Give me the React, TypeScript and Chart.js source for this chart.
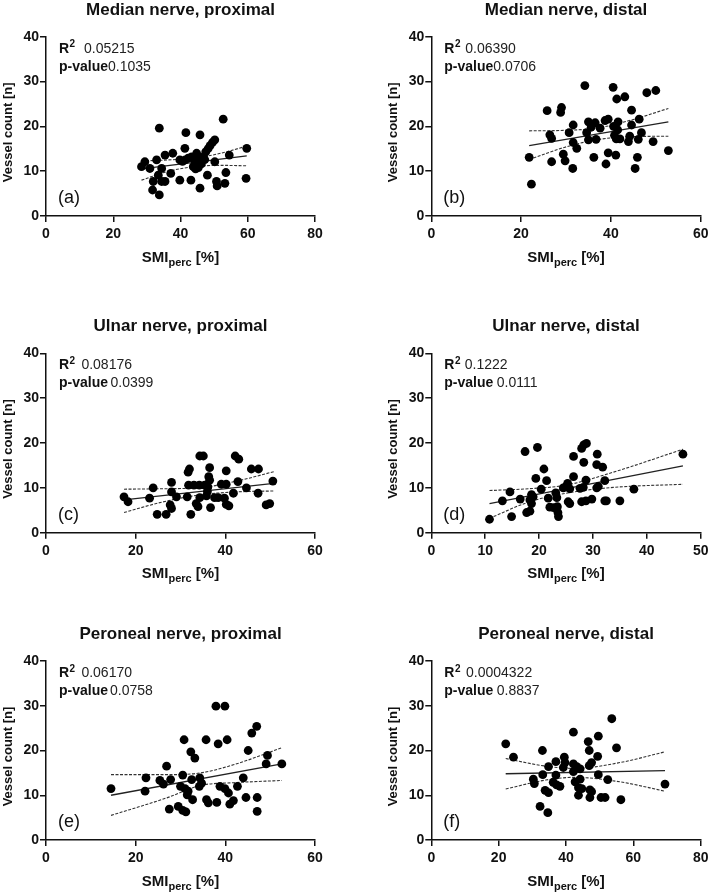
import React, { useEffect, useRef } from 'react';
import { Chart, registerables } from 'chart.js';

Chart.register(...registerables);

const FONT = '"Liberation Sans", Arial, Helvetica, sans-serif';
Chart.defaults.font.family = FONT;

// ---------- Median nerve, proximal (a)
const medProxX = [28.4, 29.4, 30.9, 31.9, 31.7, 32.9, 33.4, 33.7, 33.7, 34.4, 34.4, 35.4, 35.4, 37.1, 37.7, 39.8, 39.8, 40.6, 41.3, 41.6, 41.4, 42.3, 43.1, 43.3, 43.8, 44.3, 44.5, 44.6, 44.8, 45.0, 45.3, 45.8, 45.8, 46.2, 46.8, 47.2, 47.5, 48.0, 48.2, 48.8, 49.5, 50.2, 50.2, 50.7, 50.9, 52.7, 53.2, 53.5, 54.5, 59.5, 59.7];
const medProxY = [11.0, 12.1, 10.6, 7.7, 5.8, 12.5, 9.1, 4.7, 19.6, 10.6, 7.7, 7.7, 13.6, 9.5, 14.0, 8.0, 12.5, 12.2, 15.1, 18.6, 12.5, 12.9, 8.0, 13.2, 11.0, 12.3, 10.5, 11.6, 14.0, 12.6, 10.8, 18.1, 6.2, 11.6, 13.2, 12.6, 14.3, 9.1, 15.0, 15.7, 16.4, 17.0, 12.1, 7.7, 6.7, 21.6, 7.3, 9.7, 13.6, 8.4, 15.1];
const medProxFitX = [28.4, 59.7];
const medProxFitY = [10.5, 13.4];
const medProxBandX = [28.4, 36, 44, 52, 59.7];
const medProxUpper = [12.3, 12.5, 12.9, 14.0, 15.6];
const medProxLower = [8.0, 9.9, 11.0, 11.3, 11.2];

// ---------- Median nerve, distal (b)
const medDistX = [21.8, 22.3, 25.8, 26.4, 26.8, 26.8, 28.8, 29.0, 29.4, 29.8, 30.7, 31.5, 31.6, 31.6, 32.4, 34.2, 34.6, 35.0, 35.0, 35.6, 36.2, 36.5, 36.7, 37.6, 38.7, 38.9, 39.4, 39.4, 40.5, 40.6, 40.8, 41.1, 41.2, 41.3, 41.5, 41.6, 42.0, 43.1, 43.9, 44.2, 44.6, 44.6, 45.4, 45.9, 46.1, 46.3, 46.8, 48.0, 49.4, 50.0, 52.8];
const medDistY = [13.1, 7.1, 23.5, 18.1, 17.3, 12.1, 23.1, 24.2, 13.8, 12.3, 18.6, 10.6, 20.3, 16.4, 15.1, 29.1, 18.6, 21.0, 17.0, 19.8, 13.1, 20.8, 17.1, 19.6, 21.3, 11.6, 21.6, 14.1, 28.7, 20.0, 18.0, 13.6, 17.2, 26.1, 19.2, 21.0, 17.2, 26.6, 16.6, 17.8, 23.6, 20.3, 10.6, 13.1, 17.1, 21.6, 18.6, 27.5, 16.6, 28.0, 14.6];
const medDistFitX = [21.8, 52.8];
const medDistFitY = [15.7, 21.0];
const medDistBandX = [21.8, 29.6, 37.4, 45.2, 52.8];
const medDistUpper = [19.0, 19.1, 19.7, 21.6, 24.0];
const medDistLower = [12.6, 15.3, 17.1, 17.7, 17.8];

// ---------- Ulnar nerve, proximal (c)
const ulnProxX = [17.4, 18.3, 23.1, 23.9, 24.8, 26.8, 27.7, 28.0, 28.0, 28.0, 29.1, 31.5, 31.7, 31.8, 32.0, 32.3, 33.0, 33.5, 33.9, 34.3, 34.3, 34.2, 35.1, 35.4, 35.8, 36.0, 36.1, 36.3, 36.5, 36.5, 36.7, 37.6, 38.4, 39.1, 39.8, 40.2, 40.2, 40.2, 40.8, 41.8, 42.2, 42.8, 43.0, 44.7, 45.8, 47.3, 47.4, 49.1, 49.9, 50.6];
const ulnProxY = [8.0, 6.9, 7.7, 10.0, 4.1, 4.1, 6.2, 5.4, 9.1, 11.2, 8.0, 8.0, 13.5, 10.6, 14.2, 4.1, 10.6, 6.5, 5.8, 17.1, 7.8, 10.6, 17.1, 10.6, 8.2, 9.2, 10.2, 12.5, 11.7, 14.5, 5.6, 7.8, 7.8, 10.8, 7.7, 13.8, 10.8, 6.3, 6.0, 8.8, 17.1, 11.4, 16.4, 10.0, 14.2, 8.8, 14.2, 6.2, 6.5, 11.5];
const ulnProxFitX = [17.4, 50.8];
const ulnProxFitY = [7.3, 11.0];
const ulnProxBandX = [17.4, 25.8, 34.1, 42.5, 50.8];
const ulnProxUpper = [9.7, 9.8, 10.0, 11.5, 13.6];
const ulnProxLower = [4.5, 6.8, 8.4, 9.1, 9.3];

// ---------- Ulnar nerve, distal (d)
const ulnDistX = [10.8, 13.2, 14.6, 14.9, 16.5, 17.4, 17.7, 18.3, 18.3, 18.6, 18.9, 18.6, 19.4, 19.7, 20.4, 20.9, 21.4, 21.7, 22.0, 22.7, 23.1, 23.3, 23.4, 23.5, 23.6, 24.5, 25.0, 25.3, 25.4, 25.7, 25.7, 26.4, 26.4, 27.6, 27.9, 27.9, 28.2, 28.3, 28.3, 28.7, 28.7, 28.8, 29.8, 30.7, 30.7, 30.8, 31.0, 31.8, 32.2, 32.2, 32.5, 35.0, 37.6, 46.7];
const ulnDistY = [3.0, 7.1, 9.1, 3.6, 7.5, 18.1, 4.5, 4.8, 7.3, 8.5, 8.0, 6.5, 12.1, 19.0, 9.7, 14.2, 11.6, 7.7, 5.7, 5.6, 8.9, 7.8, 5.8, 4.5, 3.6, 10.0, 10.3, 11.0, 6.9, 6.5, 9.8, 17.0, 12.5, 9.9, 6.9, 18.8, 10.1, 19.6, 15.7, 11.7, 7.1, 19.9, 7.5, 10.0, 15.2, 17.5, 10.3, 14.6, 11.6, 7.1, 7.1, 7.1, 9.7, 17.5];
const ulnDistFitX = [10.8, 46.7];
const ulnDistFitY = [6.5, 14.9];
const ulnDistBandX = [10.8, 18, 25, 33.8, 46.7];
const ulnDistUpper = [9.4, 9.8, 10.6, 13.5, 18.6];
const ulnDistLower = [3.2, 6.8, 8.8, 10.1, 10.8];

// ---------- Peroneal nerve, proximal (e)
const perProxX = [14.5, 22.1, 22.3, 25.4, 26.2, 26.9, 27.5, 27.8, 29.5, 30.0, 30.5, 30.5, 30.8, 31.0, 31.2, 31.5, 31.7, 32.3, 32.5, 32.7, 33.2, 34.2, 34.3, 34.7, 35.7, 35.8, 36.2, 37.9, 38.1, 38.4, 38.8, 39.9, 39.9, 40.4, 40.7, 41.0, 41.8, 42.7, 44.0, 44.6, 45.1, 45.9, 47.0, 47.1, 47.1, 49.1, 49.4, 52.6];
const perProxY = [11.5, 10.9, 13.9, 13.3, 12.5, 16.5, 6.9, 13.5, 7.5, 12.0, 14.5, 6.6, 22.4, 11.5, 6.3, 10.1, 10.9, 19.7, 13.5, 9.0, 18.3, 12.0, 13.9, 12.7, 22.4, 9.0, 8.3, 29.9, 8.4, 21.5, 12.0, 29.9, 11.5, 22.4, 10.5, 8.0, 8.8, 12.0, 13.9, 9.5, 20.0, 23.9, 25.4, 9.5, 6.4, 17.0, 18.9, 17.0];
const perProxFitX = [14.5, 52.6];
const perProxFitY = [10.0, 17.0];
const perProxBandX = [14.5, 26.9, 34.5, 41.8, 52.6];
const perProxUpper = [14.6, 14.6, 15.0, 16.8, 20.6];
const perProxLower = [5.5, 9.4, 12.2, 12.8, 13.3];

// ---------- Peroneal nerve, distal (f)
const perDistX = [22.1, 24.4, 30.3, 30.6, 32.3, 33.0, 33.1, 33.8, 34.6, 34.8, 34.8, 36.2, 37.0, 37.0, 37.2, 38.2, 39.2, 39.5, 39.7, 42.2, 42.2, 42.2, 42.7, 43.2, 43.7, 43.7, 44.2, 44.2, 44.7, 46.6, 46.9, 46.9, 47.1, 47.1, 47.6, 47.6, 49.4, 49.6, 49.6, 50.4, 51.6, 52.4, 53.6, 55.0, 56.3, 69.4];
const perDistY = [21.5, 18.5, 13.6, 12.6, 7.5, 20.0, 14.6, 11.1, 6.1, 16.4, 10.6, 12.9, 17.5, 14.5, 12.3, 12.0, 16.2, 18.5, 17.3, 24.1, 17.0, 15.3, 13.0, 16.4, 11.7, 10.0, 15.9, 13.6, 11.5, 22.0, 20.0, 16.6, 11.2, 9.5, 17.3, 10.8, 18.7, 23.2, 14.6, 9.5, 9.5, 13.5, 27.1, 20.6, 9.0, 12.5];
const perDistFitX = [22.1, 69.4];
const perDistFitY = [14.8, 15.5];
const perDistBandX = [22.1, 34, 42.5, 56, 69.4];
const perDistUpper = [18.2, 16.5, 16.0, 17.3, 19.7];
const perDistLower = [11.4, 13.4, 14.0, 13.0, 10.9];

// ---------- axes / tick labels
const yTicks = [0, 10, 20, 30, 40];
const xTicks80 = [0, 20, 40, 60, 80];
const xTicks60 = [0, 20, 40, 60];
const xTicks50 = [0, 10, 20, 30, 40, 50];

const titles = ['Median nerve, proximal', 'Median nerve, distal', 'Ulnar nerve, proximal', 'Ulnar nerve, distal', 'Peroneal nerve, proximal', 'Peroneal nerve, distal'];
const letters = ['(a)', '(b)', '(c)', '(d)', '(e)', '(f)'];
const r2Values = ['0.05215', '0.06390', '0.08176', '0.1222', '0.06170', '0.0004322'];
const pValues = ['0.1035', '0.0706', '0.0399', '0.0111', '0.0758', '0.8837'];

type PanelDef = {
  title: string; letter: string; r2: string; p: string;
  xs: number[]; ys: number[]; fitX: number[]; fitY: number[];
  bandX: number[]; upper: number[]; lower: number[];
  xTicks: number[];
  box: { left: number; right: number; top: number; bottom: number };
  r2Off: number; pGap: number;
};

const W = 709;
const H = 895;
const colL = { left: 46, right: 315 };
const colR = { left: 431.3, right: 700.7 };
const rows = [{ top: 36.7, bottom: 216 }, { top: 353.3, bottom: 532.7 }, { top: 661, bottom: 840 }];

const panels: PanelDef[] = [
  { title: titles[0], letter: letters[0], r2: r2Values[0], p: pValues[0], xs: medProxX, ys: medProxY, fitX: medProxFitX, fitY: medProxFitY, bandX: medProxBandX, upper: medProxUpper, lower: medProxLower, xTicks: xTicks80, box: { ...colL, ...rows[0] }, r2Off: 25, pGap: 0 },
  { title: titles[1], letter: letters[1], r2: r2Values[1], p: pValues[1], xs: medDistX, ys: medDistY, fitX: medDistFitX, fitY: medDistFitY, bandX: medDistBandX, upper: medDistUpper, lower: medDistLower, xTicks: xTicks60, box: { ...colR, ...rows[0] }, r2Off: 21, pGap: 0 },
  { title: titles[2], letter: letters[2], r2: r2Values[2], p: pValues[2], xs: ulnProxX, ys: ulnProxY, fitX: ulnProxFitX, fitY: ulnProxFitY, bandX: ulnProxBandX, upper: ulnProxUpper, lower: ulnProxLower, xTicks: xTicks60, box: { ...colL, ...rows[1] }, r2Off: 22.4, pGap: 2.5 },
  { title: titles[3], letter: letters[3], r2: r2Values[3], p: pValues[3], xs: ulnDistX, ys: ulnDistY, fitX: ulnDistFitX, fitY: ulnDistFitY, bandX: ulnDistBandX, upper: ulnDistUpper, lower: ulnDistLower, xTicks: xTicks50, box: { ...colR, ...rows[1] }, r2Off: 20.5, pGap: 3.5 },
  { title: titles[4], letter: letters[4], r2: r2Values[4], p: pValues[4], xs: perProxX, ys: perProxY, fitX: perProxFitX, fitY: perProxFitY, bandX: perProxBandX, upper: perProxUpper, lower: perProxLower, xTicks: xTicks60, box: { ...colL, ...rows[2] }, r2Off: 22.4, pGap: 2 },
  { title: titles[5], letter: letters[5], r2: r2Values[5], p: pValues[5], xs: perDistX, ys: perDistY, fitX: perDistFitX, fitY: perDistFitY, bandX: perDistBandX, upper: perDistUpper, lower: perDistLower, xTicks: xTicks80, box: { ...colR, ...rows[2] }, r2Off: 21.7, pGap: 3.5 },
];

const TEXT = '#111';
const Y_AXIS_W = 40;
const X_AXIS_H = 30;

const textPlugin = {
  id: 'panelText',
  afterDraw(chart: any, _args: any, opts: any) {
    const p: PanelDef = opts.panel;
    if (!p) return;
    const { ctx, chartArea: ca } = chart;
    ctx.save();
    ctx.fillStyle = TEXT;
    ctx.textBaseline = 'alphabetic';

    // title
    ctx.font = `bold 17px ${FONT}`;
    ctx.textAlign = 'center';
    ctx.fillText(p.title, (ca.left + ca.right) / 2, ca.top - 22);

    // y axis title
    ctx.save();
    ctx.translate(ca.left - 38, (ca.top + ca.bottom) / 2 + 6);
    ctx.rotate(-Math.PI / 2);
    ctx.font = `bold 13px ${FONT}`;
    ctx.textAlign = 'center';
    ctx.textBaseline = 'middle';
    ctx.fillText('Vessel count [n]', 0, 0);
    ctx.restore();

    // x axis title with subscript
    ctx.textAlign = 'left';
    const big = `bold 15px ${FONT}`;
    const small = `bold 11px ${FONT}`;
    ctx.font = big;
    const w1 = ctx.measureText('SMI').width;
    const w3 = ctx.measureText(' [%]').width;
    ctx.font = small;
    const w2 = ctx.measureText('perc').width;
    const total = w1 + w2 + w3;
    let x = (ca.left + ca.right) / 2 - total / 2;
    const by = ca.bottom + 45.5;
    ctx.font = big;
    ctx.fillText('SMI', x, by);
    x += w1;
    ctx.font = small;
    ctx.fillText('perc', x, by + 4);
    x += w2;
    ctx.font = big;
    ctx.fillText(' [%]', x, by);

    // R^2 and p-value
    const x0 = ca.left + 13;
    const b1 = ca.top + 16;
    const b2 = ca.top + 34;
    ctx.font = `bold 14px ${FONT}`;
    ctx.fillText('R', x0, b1);
    const rw = ctx.measureText('R').width;
    ctx.font = `bold 10px ${FONT}`;
    ctx.fillText('2', x0 + rw + 0.5, b1 - 5.5);
    ctx.font = `14px ${FONT}`;
    ctx.fillStyle = '#222';
    ctx.fillText(p.r2, x0 + p.r2Off, b1);
    ctx.fillStyle = TEXT;
    ctx.font = `bold 14px ${FONT}`;
    ctx.fillText('p-value', x0, b2);
    const pw = ctx.measureText('p-value').width;
    ctx.font = `14px ${FONT}`;
    ctx.fillStyle = '#222';
    ctx.fillText(p.p, x0 + pw + p.pGap, b2);

    // panel letter
    ctx.fillStyle = TEXT;
    ctx.font = `18px ${FONT}`;
    ctx.textBaseline = 'middle';
    ctx.fillText(p.letter, ca.left + 12, ca.bottom - 18);
    ctx.restore();
  },
};

function zip(xs: number[], ys: number[]) {
  return xs.map((v, i) => ({ x: v, y: ys[i] }));
}

function PanelChart({ p }: { p: PanelDef }) {
  const ref = useRef<HTMLCanvasElement | null>(null);
  useEffect(() => {
    if (!ref.current) return;
    const tickFont = { family: FONT, size: 14, weight: 'bold' as const };
    const axisCommon = {
      type: 'linear' as const,
      grid: { display: true, drawOnChartArea: false, drawTicks: true, tickLength: 6, color: TEXT, lineWidth: 1.5 },
      border: { display: true, color: TEXT, width: 1.5 },
    };
    const chart = new Chart(ref.current, {
      type: 'scatter',
      data: {
        datasets: [
          { data: zip(p.xs, p.ys), pointRadius: 4.4, pointBackgroundColor: '#000', pointBorderWidth: 0, backgroundColor: '#000', borderColor: '#000', showLine: false },
          { data: zip(p.fitX, p.fitY), showLine: true, pointRadius: 0, borderColor: '#222', borderWidth: 1.3 },
          { data: zip(p.bandX, p.upper), showLine: true, pointRadius: 0, borderColor: '#333', borderWidth: 1.1, borderDash: [3, 1.5], cubicInterpolationMode: 'monotone' },
          { data: zip(p.bandX, p.lower), showLine: true, pointRadius: 0, borderColor: '#333', borderWidth: 1.1, borderDash: [3, 1.5], cubicInterpolationMode: 'monotone' },
        ],
      },
      options: {
        animation: false,
        responsive: false,
        devicePixelRatio: 1,
        events: [],
        layout: {
          padding: {
            left: p.box.left - Y_AXIS_W,
            right: W - p.box.right,
            top: p.box.top,
            bottom: H - p.box.bottom - X_AXIS_H,
          },
        },
        plugins: {
          legend: { display: false },
          tooltip: { enabled: false },
          title: { display: false },
          // @ts-ignore
          panelText: { panel: p },
        },
        scales: {
          x: {
            ...axisCommon,
            min: 0,
            max: p.xTicks[p.xTicks.length - 1],
            ticks: { font: tickFont, color: TEXT, padding: 4, maxRotation: 0, autoSkip: false },
            afterBuildTicks: (s: any) => { s.ticks = p.xTicks.map((v) => ({ value: v })); },
            afterFit: (s: any) => { s.height = X_AXIS_H; s.paddingLeft = 0; s.paddingRight = 0; },
          },
          y: {
            ...axisCommon,
            min: 0,
            max: 40,
            ticks: { font: tickFont, color: TEXT, padding: 1, autoSkip: false },
            afterBuildTicks: (s: any) => { s.ticks = yTicks.map((v) => ({ value: v })); },
            afterFit: (s: any) => { s.width = Y_AXIS_W; s.paddingTop = 0; s.paddingBottom = 0; },
          },
        },
      } as any,
      plugins: [textPlugin],
    });
    return () => chart.destroy();
  }, [p]);
  return (
    <canvas
      ref={ref}
      width={W}
      height={H}
      style={{ position: 'absolute', left: 0, top: 0, width: W, height: H, display: 'block' }}
    />
  );
}

export default function App() {
  return (
    <div style={{ position: 'absolute', left: 0, top: 0, width: W, height: H, background: '#fff', overflow: 'hidden' }}>
      {panels.map((p, i) => (
        <PanelChart key={i} p={p} />
      ))}
    </div>
  );
}
